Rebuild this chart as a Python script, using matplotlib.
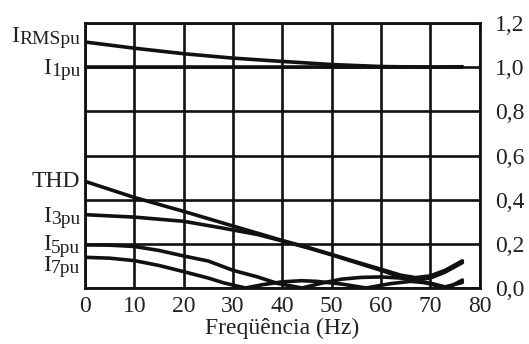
import matplotlib.pyplot as plt
from matplotlib.ticker import FuncFormatter
from matplotlib.transforms import offset_copy

plt.rcParams["font.family"] = "Liberation Serif"

# curvas (frequencia em Hz, valores em pu)
freq_irms = [0, 10, 20, 30, 40, 50, 60, 70, 76.5]
irms = [1.114, 1.086, 1.061, 1.041, 1.026, 1.012, 1.003, 1.0, 1.002]

freq_i1 = [0, 76.5]
i1 = [1.0, 1.0]

freq_thd = [0, 10, 20, 28, 35, 40, 45, 50, 55, 60, 64, 67, 70, 73, 76.5]
thd = [0.483, 0.410, 0.347, 0.294, 0.248, 0.215, 0.185, 0.152, 0.118, 0.085, 0.058, 0.047, 0.055, 0.080, 0.123]

freq_i3 = [0, 10, 20, 28, 35, 40, 45, 50, 55, 60, 64, 67, 70, 73, 76.5]
i3 = [0.332, 0.321, 0.302, 0.271, 0.242, 0.213, 0.183, 0.150, 0.115, 0.080, 0.050, 0.035, 0.045, 0.072, 0.115]

freq_i5 = [0, 5, 10, 15, 20, 25, 30, 35, 39, 44, 48, 52, 56, 60, 64, 68, 71, 73.5, 76.5]
i5 = [0.195, 0.194, 0.188, 0.170, 0.145, 0.122, 0.080, 0.050, 0.021, 0.0, 0.022, 0.040, 0.048, 0.050, 0.045, 0.030, 0.012, 0.0, 0.036]

freq_i7 = [0, 5, 10, 15, 20, 25, 28, 32.5, 36, 40, 44, 47, 52, 57, 62, 66, 70, 73, 76.5]
i7 = [0.139, 0.135, 0.124, 0.102, 0.074, 0.045, 0.024, 0.0, 0.015, 0.028, 0.033, 0.030, 0.018, 0.0, 0.020, 0.030, 0.022, 0.005, 0.025]

series = [
    (freq_irms, irms),
    (freq_i1, i1),
    (freq_thd, thd),
    (freq_i3, i3),
    (freq_i5, i5),
    (freq_i7, i7),
]

# rotulos da esquerda: letra principal + subscrito
rotulos = [("I", "RMSpu"), ("I", "1pu"), ("THD", ""), ("I", "3pu"), ("I", "5pu"), ("I", "7pu")]
rotulos_y = [1.114, 0.968, 0.459, 0.30, 0.170, 0.076]

xticks = [0, 10, 20, 30, 40, 50, 60, 70, 80]
yticks = [0.0, 0.2, 0.4, 0.6, 0.8, 1.0, 1.2]

fig = plt.figure(figsize=(5.29, 3.44), dpi=100)
ax = fig.add_axes([0.1607, 0.1628, 0.7460, 0.7703])

for x, y in series:
    ax.plot(x, y, color="#111111", lw=2.6, solid_capstyle="round", zorder=3)

ax.set_xlim(0, 80)
ax.set_ylim(0, 1.2)
ax.set_xticks(xticks)
ax.set_yticks(yticks)
ax.yaxis.tick_right()
ax.yaxis.set_major_formatter(FuncFormatter(lambda v, p: f"{v:.1f}".replace(".", ",")))
ax.tick_params(axis="both", length=0, labelsize=17, colors="#222222")
ax.tick_params(axis="x", pad=6)
ax.tick_params(axis="y", pad=11)
ax.grid(True, color="#111111", lw=1.9)
for s in ax.spines.values():
    s.set_linewidth(2.0)
    s.set_color("#111111")

ax.set_xlabel("Freqüência (Hz)", fontsize=17, color="#222222", labelpad=0)

renderer = fig.canvas.get_renderer()
trans = ax.get_yaxis_transform()
for (principal, sub), yv in zip(rotulos, rotulos_y):
    largura_sub = 0
    if sub:
        t_sub = ax.text(-0.012, yv, sub, transform=offset_copy(trans, fig=fig, y=-1.5, units="points"),
                        ha="right", va="baseline", fontsize=14, color="#222222")
        largura_sub = t_sub.get_window_extent(renderer).width * 72 / fig.dpi
    ax.text(-0.012, yv, principal, transform=offset_copy(trans, fig=fig, x=-largura_sub, units="points"),
            ha="right", va="baseline", fontsize=17, color="#222222")

fig.savefig("out.png", dpi=100)
